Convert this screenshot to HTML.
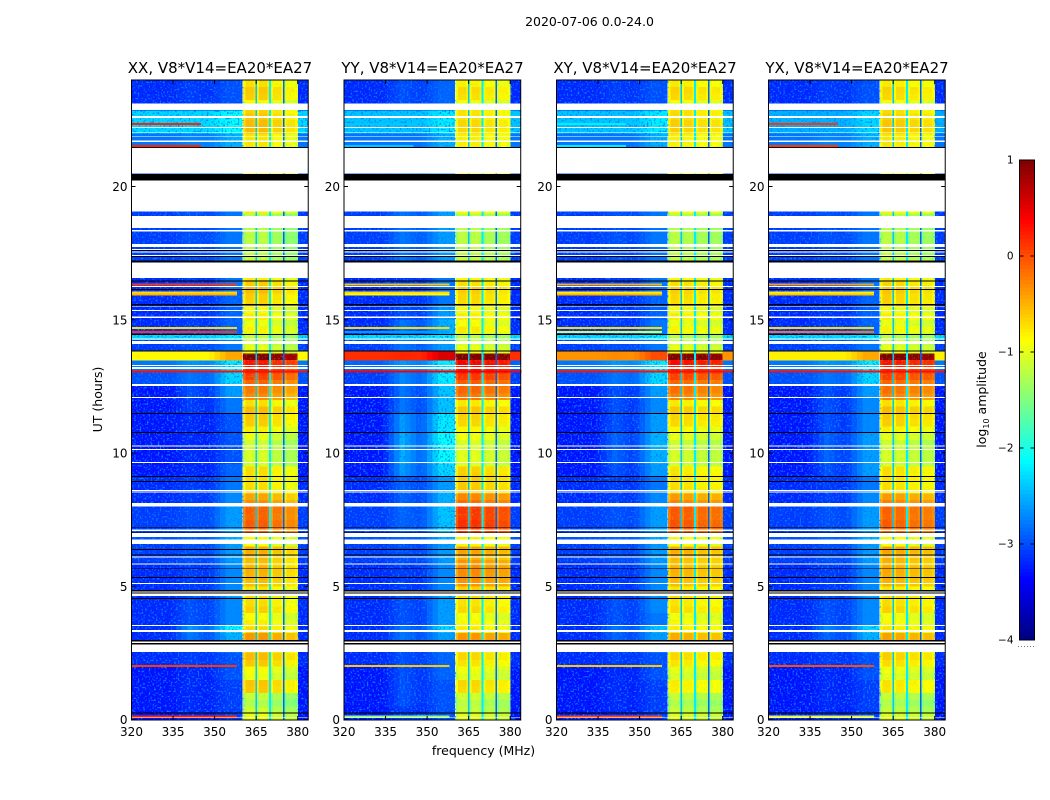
<!DOCTYPE html>
<html>
<head>
<meta charset="utf-8">
<title>Spectrogram 2020-07-06</title>
<style>
html,body{margin:0;padding:0;background:#fff;}
svg{display:block;}
text{font-family:"DejaVu Sans","Liberation Sans",sans-serif;fill:#000;}
</style>
</head>
<body>
<svg id="fig" xmlns="http://www.w3.org/2000/svg" width="1050" height="800" viewBox="0 0 1050 800">
<defs>
<filter id="speckle" x="0" y="0" width="100%" height="100%" color-interpolation-filters="sRGB">
<feTurbulence type="fractalNoise" baseFrequency="0.55" numOctaves="1" seed="4"/>
<feColorMatrix type="matrix" values="0 0 0 0 0  0 0 0 0 0.5  0 0 0 0 1  5 0 0 0 -2.6"/>
</filter>
<filter id="speckle-signal" x="0" y="0" width="100%" height="100%" color-interpolation-filters="sRGB">
<feTurbulence type="fractalNoise" baseFrequency="0.5" numOctaves="1" seed="9"/>
<feColorMatrix type="matrix" values="0 0 0 0 0.3  0 0 0 0 1  0 0 0 0 0.4  4 0 0 0 -2.2"/>
</filter>
</defs>
<text x="589.5" y="26" font-size="12.5" text-anchor="middle">2020-07-06 0.0-24.0</text>
<text x="483.5" y="755" font-size="12.5" text-anchor="middle">frequency (MHz)</text>
<text transform="translate(102,399.5) rotate(-90)" font-size="12.5" text-anchor="middle">UT (hours)</text>
<text transform="translate(986,399.5) rotate(-90)" font-size="12.5" text-anchor="middle">log<tspan font-size="8" dy="3">10</tspan><tspan dy="-3"> amplitude</tspan></text>
<g id="panels"></g>
<g id="colorbar"></g>
</svg>
<script>
// ---- axis ticks ----
const freqTicks = [320, 335, 350, 365, 380];
const utTicks = [0, 5, 10, 15, 20];
const colorTicks = [1, 0, -1, -2, -3, -4];

// ---- time rows: lower edge in UT hours ----
const utRows = [0.0,0.5,0.9,1.5,2.0,2.5,2.95,3.28,3.55,4.0,
  4.6,4.85,5.12,5.9,6.6,7.0,8.0,8.6,9.14,9.6,
  10.3,10.8,11.5,12.1,12.55,13.09,13.49,13.83,14.25,14.43,
  15.0,15.6,16.1,16.6,17.2,19.08,21.44,22.0,22.87,24.0];

// ---- log10 amplitude per row: 320-334 MHz (bg), ~341 MHz (mid), 355-360 MHz (edge), 360-380 MHz (sig) ----
const bgXX = [-3.3,-3.3,-3.3,-3.3,-3.2,-3.2,-3.2,-3.2,-3.2,-3.2,
  -3.2,-3.2,-3.2,-3.1,-3.0,-3.1,-3.2,-3.2,-3.3,-3.3,
  -3.3,-3.3,-3.3,-3.3,-3.0,-2.8,-0.85,-3.1,-2.3,-3.2,
  -3.2,-3.2,-3.2,-3.0,-3.1,-3.0,-2.8,-2.3,-3.2];
const midXX = [-3.2,-3.2,-3.2,-3.2,-3.1,-3.1,-2.8,-2.6,-3.0,-3.0,
  -3.0,-3.1,-3.1,-3.0,-2.9,-3.0,-3.1,-3.1,-3.2,-3.2,
  -3.2,-3.2,-3.1,-3.0,-2.8,-2.6,-0.85,-3.0,-2.3,-3.1,
  -3.1,-3.1,-3.1,-3.0,-3.0,-2.9,-2.7,-2.3,-3.1];
const edgeXX = [-3.1,-3.1,-3.1,-3.0,-3.0,-2.8,-2.5,-2.1,-2.7,-2.7,
  -2.5,-2.7,-2.7,-2.6,-2.5,-2.6,-2.7,-2.8,-2.9,-3.0,
  -3.0,-3.0,-2.8,-2.6,-2.3,-2.2,-0.45,-2.8,-2.2,-2.9,
  -2.9,-2.9,-2.8,-2.7,-2.8,-2.7,-2.5,-2.1,-3.0];
const sigXX = [-1.0,-1.1,-0.75,-0.95,-0.7,-0.7,-0.55,-0.8,-0.8,-0.75,
  -0.85,-0.7,-0.65,-0.6,-0.9,-0.25,-0.5,-0.85,-0.65,-1.0,
  -1.05,-0.8,-0.65,-0.4,-0.1,0.1,1.0,-1.0,-1.1,-0.9,
  -0.9,-0.8,-0.7,-0.85,-1.25,-0.85,-0.8,-0.7,-0.8];

const bgYY = [-3.3,-3.3,-3.3,-3.3,-3.2,-3.2,-3.2,-3.2,-3.2,-3.2,
  -3.2,-3.2,-3.2,-3.1,-3.0,-3.1,-3.2,-3.2,-3.3,-3.3,
  -3.3,-3.3,-3.3,-3.3,-3.1,-2.9,0.15,-3.1,-2.3,-3.2,
  -3.2,-3.2,-3.2,-3.0,-3.1,-3.0,-2.8,-2.4,-3.2];
const midYY = [-3.1,-3.0,-3.0,-3.0,-3.0,-3.0,-2.8,-2.8,-3.0,-3.0,
  -3.0,-3.1,-3.1,-3.0,-2.9,-2.9,-2.9,-2.9,-2.6,-2.5,
  -2.5,-2.6,-2.8,-2.8,-2.7,-2.6,0.2,-2.8,-2.3,-2.8,
  -3.0,-3.1,-3.1,-3.0,-2.8,-2.9,-2.8,-2.4,-3.0];
const edgeYY = [-3.0,-3.0,-3.0,-2.9,-2.9,-2.8,-2.6,-2.3,-2.6,-2.6,
  -2.5,-2.7,-2.7,-2.6,-2.5,-2.4,-2.5,-2.6,-2.3,-2.1,
  -2.1,-2.2,-2.4,-2.4,-2.2,-2.2,0.55,-2.6,-2.2,-2.5,
  -2.6,-2.8,-2.8,-2.7,-2.6,-2.7,-2.5,-2.2,-2.9];
const sigYY = [-1.05,-1.05,-0.85,-1.0,-0.85,-0.8,-0.55,-0.9,-0.85,-0.8,
  -0.85,-0.6,-0.45,-0.55,-0.85,-0.05,-0.35,-0.75,-0.6,-0.95,
  -1.0,-0.85,-0.7,-0.3,-0.05,0.2,1.0,-1.0,-1.15,-0.85,
  -0.9,-0.85,-0.8,-0.9,-1.25,-0.9,-0.85,-0.85,-0.9];

const bgXY = [-3.3,-3.3,-3.3,-3.3,-3.2,-3.2,-3.2,-3.2,-3.2,-3.2,
  -3.2,-3.2,-3.2,-3.1,-3.0,-3.1,-3.2,-3.2,-3.3,-3.3,
  -3.3,-3.3,-3.3,-3.3,-3.0,-2.8,-0.35,-3.1,-2.3,-3.2,
  -3.2,-3.2,-3.2,-3.0,-3.1,-3.0,-2.8,-2.4,-3.2];
const midXY = [-3.2,-3.2,-3.2,-3.2,-3.1,-3.1,-2.9,-2.8,-3.0,-3.0,
  -3.0,-3.1,-3.1,-3.0,-2.9,-3.0,-3.1,-3.1,-3.0,-2.9,
  -2.9,-3.0,-3.0,-3.0,-2.8,-2.6,-0.3,-3.0,-2.3,-3.1,
  -3.1,-3.1,-3.1,-3.0,-3.0,-2.9,-2.8,-2.4,-3.1];
const edgeXY = [-3.1,-3.1,-3.1,-3.0,-3.0,-2.8,-2.6,-2.4,-2.8,-2.7,
  -2.6,-2.7,-2.7,-2.6,-2.5,-2.6,-2.7,-2.8,-2.6,-2.5,
  -2.5,-2.6,-2.7,-2.6,-2.3,-2.2,0.0,-2.8,-2.2,-2.8,
  -2.9,-2.9,-2.8,-2.7,-2.8,-2.7,-2.5,-2.2,-3.0];
const sigXY = [-1.05,-1.1,-0.95,-1.05,-0.85,-0.8,-0.65,-0.9,-0.85,-0.8,
  -0.85,-0.7,-0.65,-0.6,-0.9,-0.2,-0.45,-0.85,-0.7,-1.0,
  -1.05,-0.85,-0.7,-0.35,-0.1,0.15,1.0,-1.0,-1.15,-0.9,
  -0.9,-0.85,-0.8,-0.9,-1.25,-0.9,-0.85,-0.8,-0.85];

const bgYX = [-3.3,-3.3,-3.3,-3.3,-3.2,-3.2,-3.2,-3.2,-3.2,-3.2,
  -3.2,-3.2,-3.2,-3.1,-3.0,-3.1,-3.2,-3.2,-3.3,-3.3,
  -3.3,-3.3,-3.3,-3.3,-3.0,-2.8,-0.8,-3.1,-2.3,-3.2,
  -3.2,-3.2,-3.2,-3.0,-3.1,-3.0,-2.8,-2.5,-3.2];
const midYX = [-3.2,-3.2,-3.2,-3.2,-3.1,-3.1,-2.9,-2.7,-3.0,-3.0,
  -3.0,-3.1,-3.1,-3.0,-2.9,-3.0,-3.1,-3.1,-3.0,-2.9,
  -2.9,-3.0,-3.0,-3.0,-2.8,-2.6,-0.8,-3.0,-2.3,-3.1,
  -3.1,-3.1,-3.1,-3.0,-3.0,-2.9,-2.7,-2.5,-3.1];
const edgeYX = [-3.1,-3.1,-3.1,-3.0,-3.0,-2.8,-2.5,-2.3,-2.7,-2.7,
  -2.5,-2.7,-2.7,-2.6,-2.5,-2.6,-2.7,-2.8,-2.6,-2.6,
  -2.6,-2.7,-2.7,-2.6,-2.3,-2.2,-0.45,-2.8,-2.2,-2.9,
  -2.9,-2.9,-2.8,-2.7,-2.8,-2.7,-2.5,-2.3,-3.0];
const sigYX = [-1.05,-1.1,-0.9,-1.0,-0.8,-0.75,-0.6,-0.85,-0.85,-0.75,
  -0.85,-0.7,-0.6,-0.55,-0.9,-0.25,-0.45,-0.85,-0.65,-1.0,
  -1.05,-0.8,-0.65,-0.35,-0.1,0.1,1.0,-1.0,-1.15,-0.9,
  -0.9,-0.8,-0.75,-0.85,-1.25,-0.85,-0.8,-0.75,-0.85];

// ---- sub-band offsets relative to sig ----
const offsetXX = [0.02, 0.02, -0.1, -0.2];
const offsetYY = [0.02, 0.02, -0.05, -0.1];
const offsetXY = [0.02, -0.02, -0.08, -0.1];
const offsetYX = [0.02, -0.02, -0.08, -0.12];

// ---- spectral shape across one sub-band (left, centre, right) ----
const bandShape = [-0.15, 0.04, -0.04];
// ---- level of the notch between sub-bands at 365, 370, 375 MHz ----
const notchFreq = [365, 370, 375];
const notchLevel = [-2.4, -2.2, -2.9];

// ---- signal fine structure, one value per quarter hour from 0 UT ----
const stripes = [0.0,-0.15,-0.2,-0.1, 0.1,0.12,-0.05,0.03, 0.05,0.12,0,0,
  0.15,0.06,-0.05,-0.12, 0.06,0,0.1,-0.1, 0.06,0.1,0.12,0.06,
  0.03,0.1,-0.05,0, 0.12,0.15,0.1,0.12, 0.15,0.03,0.1,0.08,
  0.08,-0.1,-0.12,-0.1, -0.12,-0.1,0.03,-0.05, 0.12,0.15,0.06,-0.12,
  0.06,0.15,-0.05,0.12, 0.06,0.15,0,0, -0.1,-0.1,0.03,-0.1,
  0.06,-0.05,0.1,0.12, 0.12,0.03,0,-0.1, -0.05,0.03,0,0,
  0,0,0,0, 0,0,0,0, 0,0,0,0, 0,0,0,0,
  0.12,0.12,0.06,0.1, -0.1,0.12,0.15,0.03];

// ---- narrow-band interference: UT hour, upper MHz, level per polarisation ----
const rfiUT = [0.11, 2.01, 14.54, 14.69, 15.94, 16.02, 16.33, 21.52, 22.35, 13.06];
const rfiEnd = [358, 358, 358, 358, 358, 358, 358, 345, 345, 384];
const rfiXX = [0.2, 0.1, 0.1, -0.7, -0.5, -0.7, 0.1, 0.2, 0.2, 0.3];
const rfiYY = [-1.4, -0.6, -2.6, -0.7, -0.9, -0.7, -0.6, -2.4, -2.4, 0.4];
const rfiXY = [0.0, -0.6, -1.0, -0.7, -0.5, -0.8, -0.5, -2.2, -2.2, 0.3];
const rfiYX = [-1.0, 0.0, -0.2, -0.7, -0.6, -0.8, -0.4, 0.1, 0.1, 0.3];

// ---- flagged (blank) and zero-valued (black) time ranges, UT hours ----
const whiteStart = [23.12,22.65,22.24,22.03,21.88,21.73,21.44,20.22,18.9,18.37,17.84,17.65,17.56,17.43,17.14,16.27,15.5,15.37,15.12,14.29,14.21,13.31,13.22,12.59,12.1,10.29,10.15,9.66,8.61,8.56,8.13,7.13,7.0,6.76,6.11,5.86,5.12,4.81,4.73,3.55,3.36,2.92,2.82,0.08];
const whiteEnd = [22.87,22.57,22.19,22.0,21.85,21.67,20.48,19.07,18.44,18.32,17.73,17.62,17.52,17.39,16.57,16.23,15.48,15.33,15.07,14.25,14.09,13.26,13.16,12.51,12.06,10.25,10.11,9.62,8.57,8.52,8.0,7.08,6.84,6.59,6.07,5.82,5.08,4.77,4.63,3.5,3.28,2.87,2.53,0.05];
const blackStart = [21.48,20.47,17.62,17.39,17.22,16.47,16.15,15.59,14.46,13.84,11.5,10.79,9.13,8.95,7.21,7.03,6.39,6.19,5.67,5.34,4.85,4.77,4.56,2.98,2.87,0.27];
const blackEnd = [21.44,20.22,17.58,17.35,17.14,16.44,16.12,15.53,14.43,13.81,11.46,10.75,9.1,8.91,7.18,7.01,6.36,6.16,5.64,5.31,4.81,4.73,4.52,2.92,2.82,0.23];

// ---- figure scaffolding ----
const NS = 'http://www.w3.org/2000/svg';
const panelNames = ['XX', 'YY', 'XY', 'YX'];
const panelLeft = [131.5, 344, 556.5, 768.5];
const panelBg = [bgXX, bgYY, bgXY, bgYX];
const panelMid = [midXX, midYY, midXY, midYX];
const panelEdge = [edgeXX, edgeYY, edgeXY, edgeYX];
const panelSig = [sigXX, sigYY, sigXY, sigYX];
const panelOffset = [offsetXX, offsetYY, offsetXY, offsetYX];
const panelRfi = [rfiXX, rfiYY, rfiXY, rfiYX];

const pxPerMHz = 2.77, pxPerHour = 26.65, y0 = 719.5, fMax = 383.8;
const yOf = function (ut) { return y0 - ut * pxPerHour; };

function jet(level) {
  const t = Math.max(0, Math.min(1, (level + 4) / 5));
  const c = function (v) { return Math.round(255 * Math.max(0, Math.min(1, v))); };
  return 'rgb(' + c(1.5 - Math.abs(4 * t - 3)) + ',' + c(1.5 - Math.abs(4 * t - 2)) + ',' + c(1.5 - Math.abs(4 * t - 1)) + ')';
}

function mk(parent, tag, attrs, txt) {
  const el = document.createElementNS(NS, tag);
  for (const k in attrs) el.setAttribute(k, attrs[k]);
  if (txt !== undefined) el.textContent = txt;
  parent.appendChild(el);
  return el;
}

function lerpLevel(f, b, m, e) {
  const xs = [320, 334, 341, 348, 355, 361];
  const ys = [b, b, m, (b + m) / 2, e, e];
  for (let i = 0; i < xs.length - 1; i++) {
    if (f <= xs[i + 1]) return ys[i] + (ys[i + 1] - ys[i]) * (f - xs[i]) / (xs[i + 1] - xs[i]);
  }
  return e;
}

function rowAt(ut) {
  let r = 0;
  while (r < utRows.length - 2 && ut >= utRows[r + 1]) r++;
  return r;
}

const panelsRoot = document.getElementById('panels');
panelNames.forEach(function (pol, p) {
  const left = panelLeft[p];
  const xOf = function (f) { return left + (f - 320) * pxPerMHz; };
  const g = mk(panelsRoot, 'g', {});
  
  

  const title = mk(g, 'text', { x: left + 88.5, y: 73, 'font-size': 15, 'text-anchor': 'middle' }, pol + ', V8*V14=EA20*EA27');
  
  

  const cells = mk(g, 'g', { 'shape-rendering': 'crispEdges' });
  
  

  const addCell = function (parent, f0, f1, ut0, ut1, level) {
    const yTop = yOf(ut1), yBot = yOf(ut0);
    const cell = mk(parent, 'rect', { x: xOf(f0), y: yTop, width: xOf(f1) - xOf(f0) + 0.3, height: yBot - yTop + 0.3, fill: jet(level) });
    
    
  };

  // background channels; very bright rows are repainted above the speckle layer
  const hotCells = [];
  for (let r = 0; r < utRows.length - 1; r++) {
    const b = panelBg[p][r], m = panelMid[p][r], e = panelEdge[p][r];
    for (let f = 320; f < 360; f += 2) {
      const lv = lerpLevel(f + 1, b, m, e);
      addCell(cells, f, Math.min(f + 2, 360.3), utRows[r], utRows[r + 1], lv);
      if (lv > -1.5) hotCells.push([f, Math.min(f + 2, 360.3), utRows[r], utRows[r + 1], lv]);
    }
    addCell(cells, 380, fMax, utRows[r], utRows[r + 1], b);
    if (b > -1.5) hotCells.push([380, fMax, utRows[r], utRows[r + 1], b]);
  }

  // signal sub-bands at quarter-hour resolution
  const off = panelOffset[p];
  const bandStart = [360.3, 365, 370, 375];
  const bandEnd = [365, 370, 375, 380];
  stripes.forEach(function (delta, i) {
    const ut0 = i * 0.25, ut1 = ut0 + 0.25;
    const s = panelSig[p][rowAt(ut0 + 0.125)];
    bandStart.forEach(function (f0, k) {
      const w = bandEnd[k] - f0;
      addCell(cells, f0, f0 + w * 0.2, ut0, ut1, s + off[k] + delta + bandShape[0]);
      addCell(cells, f0 + w * 0.2, f0 + w * 0.8, ut0, ut1, s + off[k] + delta + bandShape[1]);
      addCell(cells, f0 + w * 0.8, bandEnd[k], ut0, ut1, s + off[k] + delta + bandShape[2]);
    });
  });

  const bgNoise = mk(g, 'rect', { x: xOf(320), y: 80, width: xOf(360.3) - xOf(320), height: 640, filter: 'url(#speckle)' });
  
  
  const bgNoiseR = mk(g, 'rect', { x: xOf(380), y: 80, width: xOf(fMax) - xOf(380), height: 640, filter: 'url(#speckle)' });
  
  
  const sigNoise = mk(g, 'rect', { x: xOf(360.3), y: 80, width: xOf(380) - xOf(360.3), height: 640, filter: 'url(#speckle-signal)', opacity: 0.35 });
  
  

  const hot = mk(g, 'g', { 'shape-rendering': 'crispEdges' });
  
  
  hotCells.forEach(function (c) { addCell(hot, c[0], c[1], c[2], c[3], c[4]); });

  notchFreq.forEach(function (f, i) {
    const gap = mk(g, 'rect', { x: xOf(f) - 0.8, y: 80, width: 1.6, height: 640, fill: jet(notchLevel[i]), 'shape-rendering': 'crispEdges' });
    
    
  });

  rfiUT.forEach(function (ut, i) {
    const line = mk(g, 'rect', { x: xOf(320), y: yOf(ut) - 1, width: xOf(rfiEnd[i]) - xOf(320), height: 2, fill: jet(panelRfi[p][i]), 'shape-rendering': 'crispEdges' });
    
    
  });

  whiteStart.forEach(function (ut, i) {
    const gap = mk(g, 'rect', { x: left, y: yOf(ut), width: (fMax - 320) * pxPerMHz, height: yOf(whiteEnd[i]) - yOf(ut), fill: '#fff', 'shape-rendering': 'crispEdges' });
    
    
  });
  blackStart.forEach(function (ut, i) {
    const gap = mk(g, 'rect', { x: left, y: yOf(ut), width: (fMax - 320) * pxPerMHz, height: yOf(blackEnd[i]) - yOf(ut), fill: '#000', 'shape-rendering': 'crispEdges' });
    
    
  });

  const right = xOf(fMax);
  const frame = mk(g, 'rect', { x: left, y: 80, width: right - left, height: 640, fill: 'none', stroke: '#000', 'stroke-width': 1 });
  
  

  freqTicks.forEach(function (f) {
    const x = xOf(f);
    const t1 = mk(g, 'path', { d: 'M' + x + ' 720V716M' + x + ' 80V84', stroke: '#000', 'stroke-width': 1, fill: 'none' });
    
    
    const l = mk(g, 'text', { x: x, y: 736, 'font-size': 12, 'text-anchor': 'middle' }, String(f));
    
    
  });
  utTicks.forEach(function (ut) {
    const y = yOf(ut);
    const t1 = mk(g, 'path', { d: 'M' + left + ' ' + y + 'h4M' + right + ' ' + y + 'h-4', stroke: '#000', 'stroke-width': 1, fill: 'none' });
    
    
    const l = mk(g, 'text', { x: left - 4, y: y + 4.5, 'font-size': 12, 'text-anchor': 'end' }, String(ut));
    
    
  });
});

// ---- colour bar ----
const cbRoot = document.getElementById('colorbar');
const cbX = 1019.5, cbW = 15, cbTop = 160, cbH = 480;
const cbY = function (v) { return cbTop + (1 - v) / 5 * cbH; };
for (let i = 0; i < 128; i++) {
  const hi = 1 - i * 5 / 128, lo = hi - 5 / 128;
  const s = mk(cbRoot, 'rect', { x: cbX, y: cbY(hi), width: cbW, height: cbY(lo) - cbY(hi) + 0.4, fill: jet((hi + lo) / 2), 'shape-rendering': 'crispEdges' });
  
  
}
const cbFrame = mk(cbRoot, 'rect', { x: cbX, y: cbTop, width: cbW, height: cbH, fill: 'none', stroke: '#000', 'stroke-width': 1 });


colorTicks.forEach(function (v) {
  const y = cbY(v);
  const t = mk(cbRoot, 'path', { d: 'M' + cbX + ' ' + y + 'h4M' + (cbX + cbW) + ' ' + y + 'h-4', stroke: '#000', 'stroke-width': 1, fill: 'none' });
  
  
  const l = mk(cbRoot, 'text', { x: cbX - 6, y: y + 3.5, 'font-size': 10.5, 'text-anchor': 'end' }, (v < 0 ? '\u2212' + (-v) : String(v)));
  
  
});
const dots = mk(cbRoot, 'path', { d: 'M1018 646.5H1035', stroke: '#777', 'stroke-width': 1, 'stroke-dasharray': '1 2', fill: 'none' });


</script>
</body>
</html>
